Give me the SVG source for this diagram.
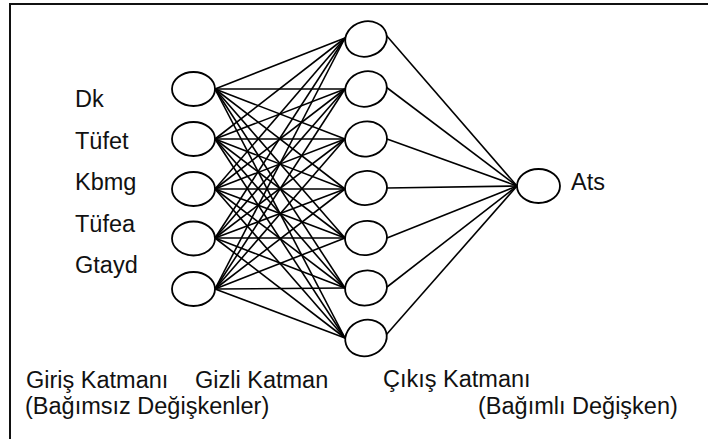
<svg xmlns="http://www.w3.org/2000/svg" width="708" height="439" viewBox="0 0 708 439">
  <style>
    .frame { fill: none; stroke: #111; stroke-width: 2; }
    .node { fill: #fff; stroke: #000; stroke-width: 1.8; }
    .edge { stroke: #000; stroke-width: 1.6; fill: none; }
    .lbl { font-family: "Liberation Sans", Arial, sans-serif; font-size: 23.5px; fill: #111; }
  </style>
  <rect width="708" height="439" fill="#fff"/>
  <rect class="frame" x="10" y="4" width="730" height="470"/>

  <!-- connectors: input -> hidden (5 x 7), hidden -> output (7 x 1) -->
  <g id="connectors" class="edge">
    <!-- from input 1 -->
    <line x1="215" y1="89" x2="345" y2="38"/>
    <line x1="215" y1="89" x2="345" y2="89"/>
    <line x1="215" y1="89" x2="345" y2="139"/>
    <line x1="215" y1="89" x2="345" y2="189"/>
    <line x1="215" y1="89" x2="345" y2="238"/>
    <line x1="215" y1="89" x2="345" y2="288"/>
    <line x1="215" y1="89" x2="345" y2="338"/>
    <!-- from input 2 -->
    <line x1="215" y1="139" x2="345" y2="38"/>
    <line x1="215" y1="139" x2="345" y2="89"/>
    <line x1="215" y1="139" x2="345" y2="139"/>
    <line x1="215" y1="139" x2="345" y2="189"/>
    <line x1="215" y1="139" x2="345" y2="238"/>
    <line x1="215" y1="139" x2="345" y2="288"/>
    <line x1="215" y1="139" x2="345" y2="338"/>
    <!-- from input 3 -->
    <line x1="215" y1="189" x2="345" y2="38"/>
    <line x1="215" y1="189" x2="345" y2="89"/>
    <line x1="215" y1="189" x2="345" y2="139"/>
    <line x1="215" y1="189" x2="345" y2="189"/>
    <line x1="215" y1="189" x2="345" y2="238"/>
    <line x1="215" y1="189" x2="345" y2="288"/>
    <line x1="215" y1="189" x2="345" y2="338"/>
    <!-- from input 4 -->
    <line x1="215" y1="238" x2="345" y2="38"/>
    <line x1="215" y1="238" x2="345" y2="89"/>
    <line x1="215" y1="238" x2="345" y2="139"/>
    <line x1="215" y1="238" x2="345" y2="189"/>
    <line x1="215" y1="238" x2="345" y2="238"/>
    <line x1="215" y1="238" x2="345" y2="288"/>
    <line x1="215" y1="238" x2="345" y2="338"/>
    <!-- from input 5 -->
    <line x1="215" y1="289" x2="345" y2="38"/>
    <line x1="215" y1="289" x2="345" y2="89"/>
    <line x1="215" y1="289" x2="345" y2="139"/>
    <line x1="215" y1="289" x2="345" y2="189"/>
    <line x1="215" y1="289" x2="345" y2="238"/>
    <line x1="215" y1="289" x2="345" y2="288"/>
    <line x1="215" y1="289" x2="345" y2="338"/>
    <!-- hidden -> output -->
    <line x1="386" y1="35" x2="517" y2="186"/>
    <line x1="386" y1="87" x2="517" y2="186"/>
    <line x1="387" y1="139" x2="517" y2="186"/>
    <line x1="387" y1="188" x2="517" y2="186"/>
    <line x1="387" y1="238" x2="517" y2="186"/>
    <line x1="387" y1="287" x2="517" y2="186"/>
    <line x1="386" y1="335" x2="517" y2="186"/>
  </g>

  <!-- input layer -->
  <g id="in1"><ellipse class="node" cx="193.5" cy="89" rx="21.5" ry="17"/></g>
  <g id="in2"><ellipse class="node" cx="193.5" cy="139" rx="21.5" ry="17"/></g>
  <g id="in3"><ellipse class="node" cx="193.5" cy="189" rx="21.5" ry="17"/></g>
  <g id="in4"><ellipse class="node" cx="193.5" cy="238.5" rx="21.5" ry="17"/></g>
  <g id="in5"><ellipse class="node" cx="193.5" cy="289" rx="21.5" ry="17"/></g>

  <!-- hidden layer -->
  <g id="h1"><ellipse class="node" cx="366" cy="39" rx="21" ry="17.5" transform="rotate(-15 366 39)"/></g>
  <g id="h2"><ellipse class="node" cx="366" cy="89" rx="21" ry="17.5" transform="rotate(-15 366 89)"/></g>
  <g id="h3"><ellipse class="node" cx="366" cy="139" rx="21" ry="17.5" transform="rotate(-8 366 139)"/></g>
  <g id="h4"><ellipse class="node" cx="366" cy="188" rx="21" ry="17" transform="rotate(-5 366 188)"/></g>
  <g id="h5"><ellipse class="node" cx="366" cy="238" rx="21" ry="17" transform="rotate(-8 366 238)"/></g>
  <g id="h6"><ellipse class="node" cx="366" cy="288" rx="21" ry="17.5" transform="rotate(-10 366 288)"/></g>
  <g id="h7"><ellipse class="node" cx="366" cy="338" rx="21" ry="18" transform="rotate(-18 366 338)"/></g>

  <!-- output layer -->
  <g id="out"><ellipse class="node" cx="538.5" cy="186" rx="21.5" ry="17"/></g>

  <!-- input variable names -->
  <g id="input-labels" class="lbl">
    <text x="75" y="107">Dk</text>
    <text x="75" y="148.5">Tüfet</text>
    <text x="75" y="190">Kbmg</text>
    <text x="75" y="231.5">Tüfea</text>
    <text x="75" y="273">Gtayd</text>
  </g>
  <text class="lbl" x="571" y="190">Ats</text>

  <!-- layer captions -->
  <g id="captions" class="lbl">
    <text x="26" y="388">Giriş Katmanı</text>
    <text x="25" y="414">(Bağımsız Değişkenler)</text>
    <text x="195" y="388">Gizli Katman</text>
    <text x="383" y="387">Çıkış Katmanı</text>
    <text x="478" y="414">(Bağımlı Değişken)</text>
  </g>
</svg>
